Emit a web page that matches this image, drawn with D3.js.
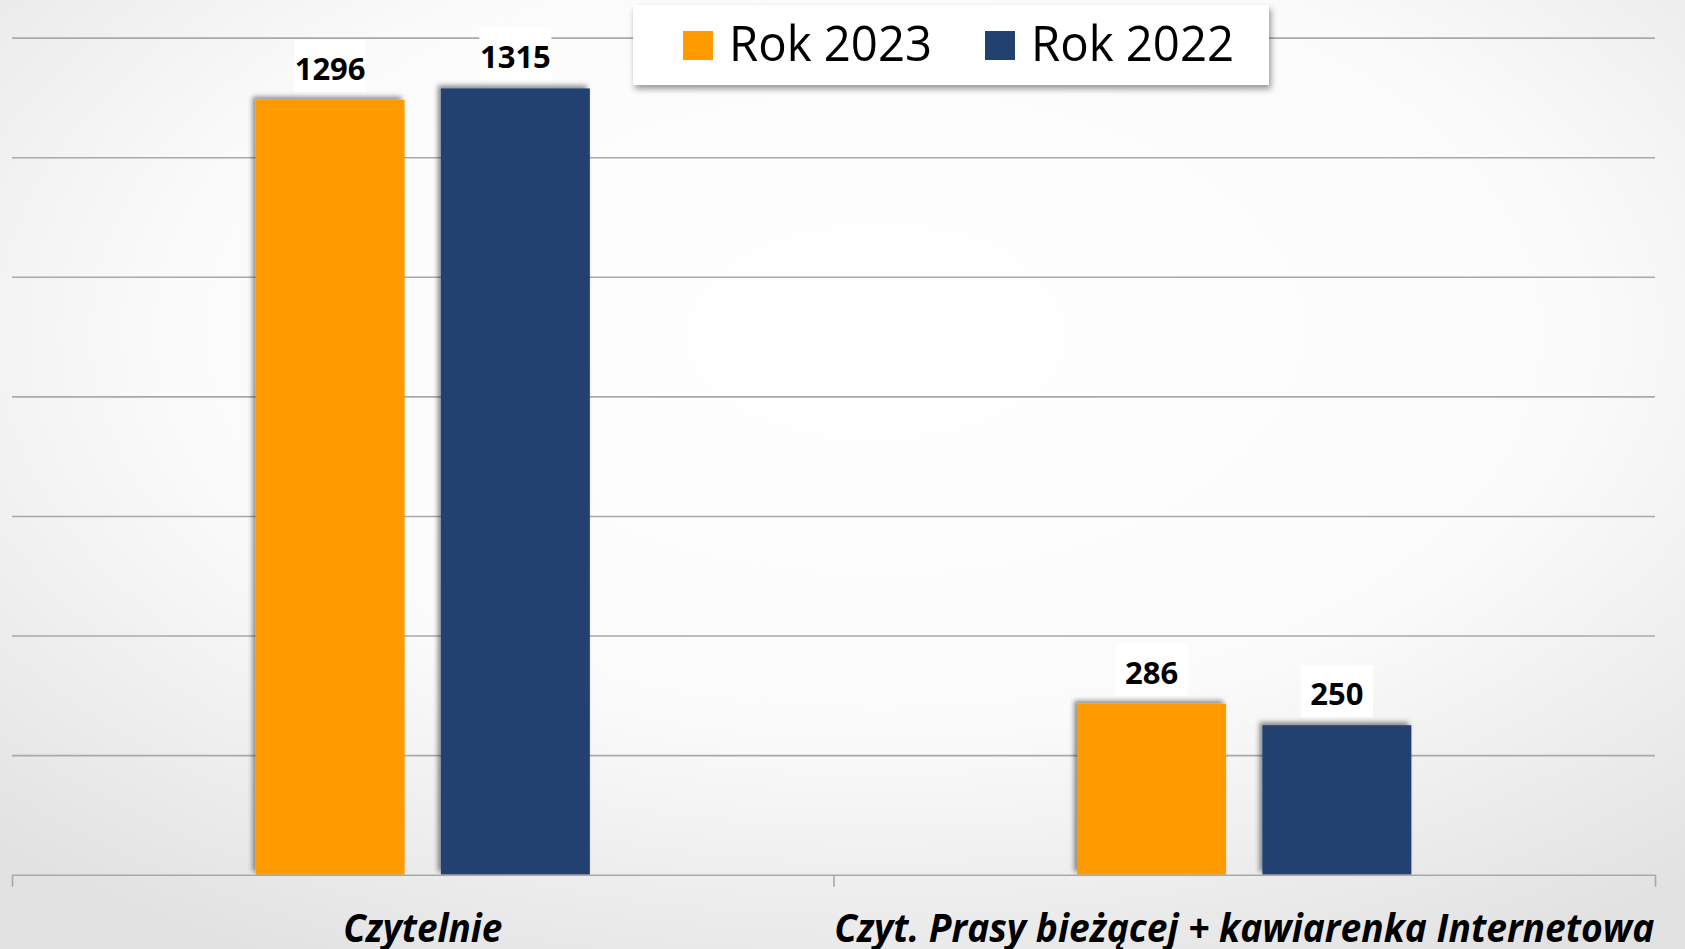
<!DOCTYPE html>
<html>
<head>
<meta charset="utf-8">
<script src="https://cdn.jsdelivr.net/npm/d3@7"></script>
<style>
  html, body { margin: 0; padding: 0; overflow: hidden; }
  .chart { width: 1685px; height: 949px; }
  .chart__grid line { stroke: #a9a9a9; stroke-width: 1.6px; }
  .chart__grid .domain { display: none; }
  .chart__axis path, .chart__axis line { stroke: #a9a9a9; stroke-width: 1.6px; }
  .chart__label { font-family: "Open Sans", sans-serif; font-weight: 700; font-size: 31px; fill: #000; }
  .chart__category { font-family: "Open Sans", sans-serif; font-weight: 700; font-style: italic; font-size: 40px; fill: #000; }
  .chart__legend text { font-family: "Open Sans", sans-serif; font-weight: 400; font-size: 49px; fill: #000; }
</style>
</head>
<body>
<div class="chart js-chart" id="chart"></div>
<script>
const categories = [`Czytelnie`, `Czyt. Prasy bieżącej + kawiarenka Internetowa`];
const seriesNames = [`Rok 2023`, `Rok 2022`];
const values2023 = [1296, 286];
const values2022 = [1315, 250];
const gridTicks = [200, 400, 600, 800, 1000, 1200, 1400];
const seriesColors = [`#ff9a00`, `#23416f`];

class BarChart {
  constructor(el) {
    this.el = el;
    this.width = 1685;
    this.height = 949;
    this.plot = { left: 12, right: 1655, top: 37.6, bottom: 874.7 };
    this.series = [values2023, values2022];
  }

  render() {
    this.svg = d3.select(this.el).append(`svg`)
        .attr(`width`, this.width)
        .attr(`height`, this.height)
        .attr(`class`, `chart__svg`);

    this.drawDefs();

    this.svg.append(`rect`)
        .attr(`width`, this.width)
        .attr(`height`, this.height)
        .attr(`fill`, `url(#bg)`);

    this.x0 = d3.scaleBand()
      .domain(categories)
      .range([this.plot.left, this.plot.right])
      .padding(0);
    this.x1 = d3.scaleBand()
      .domain(seriesNames)
      .range([0, this.x0.bandwidth()])
      .paddingInner(0.196)
      .paddingOuter(1.315);
    this.y = d3.scaleLinear()
      .domain([0, 1400])
      .range([this.plot.bottom, this.plot.top]);

    this.drawGrid();
    this.drawBars();
    this.drawAxis();
    this.drawLegend();
  }

  drawDefs() {
    const defs = this.svg.append(`defs`);

    const bg = defs.append(`radialGradient`)
        .attr(`id`, `bg`)
        .attr(`cx`, `52%`).attr(`cy`, `35%`).attr(`r`, `75%`);
    bg.append(`stop`).attr(`offset`, `0%`).attr(`stop-color`, `#ffffff`);
    bg.append(`stop`).attr(`offset`, `55%`).attr(`stop-color`, `#fbfbfb`);
    bg.append(`stop`).attr(`offset`, `100%`).attr(`stop-color`, `#e2e2e2`);

    // bar shadow sits up and to the left
    const barShadow = defs.append(`filter`).attr(`id`, `barShadow`)
        .attr(`x`, `-10%`).attr(`y`, `-10%`).attr(`width`, `120%`).attr(`height`, `120%`);
    barShadow.append(`feDropShadow`)
        .attr(`dx`, -3).attr(`dy`, -3).attr(`stdDeviation`, 2.5)
        .attr(`flood-color`, `#000`).attr(`flood-opacity`, 0.45);

    const boxShadow = defs.append(`filter`).attr(`id`, `boxShadow`)
        .attr(`x`, `-10%`).attr(`y`, `-20%`).attr(`width`, `120%`).attr(`height`, `150%`);
    boxShadow.append(`feDropShadow`)
        .attr(`dx`, 2).attr(`dy`, 4).attr(`stdDeviation`, 3)
        .attr(`flood-color`, `#000`).attr(`flood-opacity`, 0.4);
  }

  drawGrid() {
    this.svg.append(`g`)
        .attr(`class`, `chart__grid`)
        .attr(`transform`, `translate(${this.plot.left},0)`)
        .call(d3.axisLeft(this.y)
          .tickValues(gridTicks)
          .tickSize(-(this.plot.right - this.plot.left))
          .tickFormat(``));
  }

  drawBars() {
    const rows = categories.map((c, i) => ({
      category: c,
      items: seriesNames.map((s, j) => ({ name: s, value: this.series[j][i], color: seriesColors[j] }))
    }));

    const groups = this.svg.selectAll(`.chart__group`)
        .data(rows)
      .enter().append(`g`)
        .attr(`class`, `chart__group`)
        .attr(`transform`, (d) => `translate(${this.x0(d.category)},0)`);

    groups.selectAll(`rect`)
        .data((d) => d.items)
      .enter().append(`rect`)
        .attr(`x`, (d) => this.x1(d.name))
        .attr(`y`, (d) => this.y(d.value))
        .attr(`width`, this.x1.bandwidth())
        .attr(`height`, (d) => this.y(0) - this.y(d.value))
        .attr(`fill`, (d) => d.color)
        .attr(`filter`, `url(#barShadow)`);

    const labels = groups.selectAll(`.chart__labelbox`)
        .data((d) => d.items)
      .enter().append(`g`)
        .attr(`class`, `chart__labelbox`)
        .attr(`transform`, (d) => `translate(${this.x1(d.name) + this.x1.bandwidth() / 2},${this.y(d.value) - 20})`);

    labels.append(`rect`)
        .attr(`x`, -36)
        .attr(`y`, -40)
        .attr(`width`, 72)
        .attr(`height`, 52)
        .attr(`fill`, `#fff`);

    labels.append(`text`)
        .attr(`class`, `chart__label`)
        .attr(`text-anchor`, `middle`)
        .text((d) => d.value);
  }

  drawAxis() {
    const edges = d3.scaleLinear()
      .domain([0, categories.length])
      .range([this.plot.left, this.plot.right]);

    this.svg.append(`g`)
        .attr(`class`, `chart__axis`)
        .attr(`transform`, `translate(0,${this.plot.bottom})`)
        .call(d3.axisBottom(edges)
          .tickValues(d3.range(categories.length + 1))
          .tickSize(12)
          .tickSizeOuter(0)
          .tickFormat(``));

    const fits = [159, 820];
    this.svg.selectAll(`.chart__category`)
        .data(categories)
      .enter().append(`text`)
        .attr(`class`, `chart__category`)
        .attr(`x`, (d) => this.x0(d) + this.x0.bandwidth() / 2)
        .attr(`y`, 942)
        .attr(`text-anchor`, `middle`)
        .attr(`textLength`, (d, i) => fits[i])
        .attr(`lengthAdjust`, `spacingAndGlyphs`)
        .text((d) => d);
  }

  drawLegend() {
    const legend = this.svg.append(`g`)
        .attr(`class`, `chart__legend`);

    legend.append(`rect`)
        .attr(`x`, 633)
        .attr(`y`, 5)
        .attr(`width`, 636)
        .attr(`height`, 80)
        .attr(`fill`, `#fff`)
        .attr(`filter`, `url(#boxShadow)`);

    const items = legend.selectAll(`.chart__legend-item`)
        .data(seriesNames)
      .enter().append(`g`)
        .attr(`class`, `chart__legend-item`)
        .attr(`transform`, (d, i) => `translate(${683 + i * 302},0)`);

    items.append(`rect`)
        .attr(`y`, 31)
        .attr(`width`, 30)
        .attr(`height`, 29)
        .attr(`fill`, (d, i) => seriesColors[i]);

    items.append(`text`)
        .attr(`x`, 46)
        .attr(`y`, 61)
        .attr(`textLength`, 203)
        .attr(`lengthAdjust`, `spacingAndGlyphs`)
        .text((d) => d);
  }
}

new BarChart(`#chart`).render();
</script>
</body>
</html>
